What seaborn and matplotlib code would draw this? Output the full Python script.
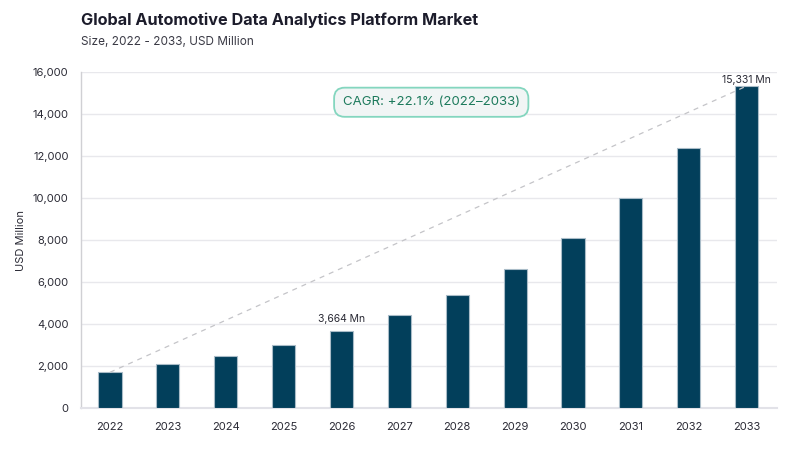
import matplotlib
matplotlib.use("Agg")
import matplotlib.pyplot as plt
import seaborn as sns
import pandas as pd
from matplotlib.ticker import FuncFormatter

years = ["2022", "2023", "2024", "2025", "2026", "2027", "2028", "2029", "2030", "2031", "2032", "2033"]
values = [1700, 2090, 2500, 3010, 3664, 4430, 5400, 6600, 8100, 10000, 12360, 15331]
yticks = [0, 2000, 4000, 6000, 8000, 10000, 12000, 14000, 16000]
title = "Global Automotive Data Analytics Platform Market"
subtitle = "Size, 2022 - 2033, USD Million"
ylabel = "USD Million"
cagr_text = "CAGR: +22.1% (2022\u20132033)"

sns.set_theme(style="white")
plt.rcParams["font.family"] = ["Inter", "DejaVu Sans"]

df = pd.DataFrame({"year": years, "value": values})

fig = plt.figure(figsize=(8, 4.5), dpi=100)
ax = fig.add_axes([0.10125, 0.0933, 0.8697, 0.7467])

sns.barplot(data=df, x="year", y="value", color="#023f5b", width=0.4,
            edgecolor="#a9bcc8", linewidth=0.8, saturation=1, ax=ax, zorder=3)

ax.set_ylim(0, 16000)
ax.set_xlim(-0.5, len(years) - 0.48)
ax.set_yticks(yticks)
ax.yaxis.set_major_formatter(FuncFormatter(lambda v, p: f"{int(v):,}"))
ax.grid(axis="y", color="#e8e8ec", linewidth=1, zorder=0)
ax.set_axisbelow(True)

for s in ["top", "right"]:
    ax.spines[s].set_visible(False)
ax.spines["left"].set_color("#d0d0d4")
ax.spines["left"].set_linewidth(1)
ax.spines["bottom"].set_color("#e2e2e8")
ax.spines["bottom"].set_linewidth(1.5)

ax.tick_params(axis="y", length=6, color="#d0d0d4", width=1, labelsize=8, labelcolor="#2a2a35", pad=3)
ax.tick_params(axis="x", length=0, labelsize=8, labelcolor="#2a2a35", pad=10)
ax.set_xlabel("")
ax.set_ylabel(ylabel, fontsize=8, color="#2a2a35", labelpad=5)

# dashed trend line from first to last bar top
ax.plot([0, len(years) - 1], [values[0], values[-1]], linestyle=(0, (4, 4)),
        color="#c4c4c8", linewidth=0.9, zorder=4)

# annotations
ax.text(4, values[4] + 330, f"{values[4]:,} Mn", ha="center", va="bottom",
        fontsize=7.5, color="#2a2a35", zorder=5)
ax.text(11, values[-1] + 60, f"{values[-1]:,} Mn", ha="center", va="bottom",
        fontsize=7.5, color="#2a2a35", zorder=5)

ax.text(0.5034, 0.91, cagr_text, transform=ax.transAxes, ha="center", va="center",
        fontsize=9.5, color="#1d7a5c", zorder=6,
        bbox=dict(boxstyle="round,pad=0.65,rounding_size=0.8", facecolor="#f1f5f5",
                  edgecolor="#84d6bf", linewidth=1.3))

fig.text(0.10125, 0.955, title, ha="left", va="center", fontsize=11.7,
         fontweight="bold", color="#1c1c2b")
fig.text(0.10125, 0.907, subtitle, ha="left", va="center", fontsize=8.5,
         color="#3a3a45")

fig.savefig("out.png", dpi=100, facecolor="white")
